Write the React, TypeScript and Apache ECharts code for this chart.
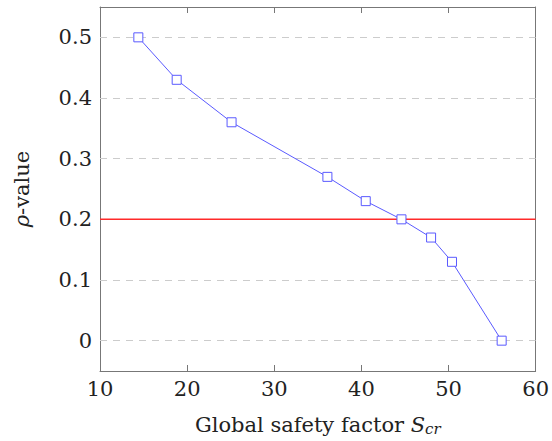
import React, { useEffect, useRef } from "react";
import * as echarts from "echarts";

const safetyFactor = [14.4, 18.8, 25.1, 36.1, 40.5, 44.6, 48.0, 50.4, 56.1];
const pValue = [0.5, 0.43, 0.36, 0.27, 0.23, 0.2, 0.17, 0.13, 0.0];
const yTicks = [0, 0.1, 0.2, 0.3, 0.4, 0.5];
const xTicks = [10, 20, 30, 40, 50, 60];
const threshold = 0.2;

const FONT = "DejaVu Serif";
const FS = 21;
const TXT = "#222";
const AXIS = "#777777";

const mkLine = () => ({ show: true, onZero: false, lineStyle: { color: AXIS, width: 1 } });
const mkTick = (vals: number[]) => ({
  show: true,
  inside: true,
  length: 6,
  customValues: vals,
  lineStyle: { color: AXIS, width: 1 },
});

export default function App() {
  const ref = useRef<HTMLDivElement>(null);
  useEffect(() => {
    if (!ref.current) return;
    const chart = echarts.init(ref.current, null, { renderer: "svg" });
    const xMin = xTicks[0];
    const xMax = xTicks[xTicks.length - 1];
    const gridLines = yTicks
      .filter((v) => v !== threshold)
      .map((v) => ({ yAxis: v }));
    chart.setOption({
      animation: false,
      grid: {
        left: 100,
        right: 11,
        top: 7,
        bottom: 69,
        show: false,
      },
      xAxis: [
        {
          type: "value",
          min: xMin,
          max: xMax,
          interval: 10,
          position: "bottom",
          axisLine: mkLine(),
          axisTick: mkTick(xTicks),
          splitLine: { show: false },
          axisLabel: { fontFamily: FONT, fontSize: FS, color: TXT, margin: 7 },
          name: "Global safety factor {i|S}{sub|cr}",
          nameLocation: "middle",
          nameGap: 42,
          nameTextStyle: {
            fontFamily: FONT,
            fontSize: FS,
            color: TXT,
            rich: {
              i: { fontFamily: FONT, fontSize: FS, fontStyle: "italic", color: TXT },
              sub: {
                fontFamily: FONT,
                fontSize: 15,
                fontStyle: "italic",
                color: TXT,
                verticalAlign: "bottom",
                padding: [8, 0, 0, 0],
              },
            },
          },
        },
        {
          type: "value",
          min: xMin,
          max: xMax,
          interval: 10,
          position: "top",
          axisLine: mkLine(),
          axisTick: mkTick(xTicks),
          splitLine: { show: false },
          axisLabel: { show: false },
        },
      ],
      yAxis: [
        {
          type: "value",
          min: -0.05,
          max: 0.55,
          position: "left",
          axisLine: mkLine(),
          axisTick: mkTick(yTicks),
          splitLine: { show: false },
          axisLabel: {
            customValues: yTicks,
            fontFamily: FONT,
            fontSize: FS,
            color: TXT,
            margin: 8,
            formatter: (v: number) => String(Math.round(v * 10) / 10),
          },
          name: "{i|ρ}-value",
          nameLocation: "middle",
          nameRotate: 90,
          nameGap: 68,
          nameTextStyle: {
            fontFamily: FONT,
            fontSize: FS,
            color: TXT,
            rich: {
              i: { fontFamily: FONT, fontSize: FS, fontStyle: "italic", color: TXT },
            },
          },
        },
        {
          type: "value",
          min: -0.05,
          max: 0.55,
          position: "right",
          axisLine: mkLine(),
          axisTick: mkTick(yTicks),
          splitLine: { show: false },
          axisLabel: { show: false },
        },
      ],
      series: [
        {
          type: "line",
          data: [],
          silent: true,
          markLine: {
            silent: true,
            symbol: "none",
            label: { show: false },
            lineStyle: { color: "#cccccc", type: [7, 6], width: 1.2 },
            data: gridLines,
          },
        },
        {
          type: "line",
          data: [
            [xMin, threshold],
            [xMax, threshold],
          ],
          silent: true,
          symbol: "none",
          lineStyle: { color: "#ff2a2a", width: 1.5 },
          itemStyle: { color: "#ff2a2a" },
          z: 3,
        },
        {
          type: "line",
          data: safetyFactor.map((x, i) => [x, pValue[i]]),
          symbol: "rect",
          symbolSize: 9,
          showAllSymbol: true,
          lineStyle: { color: "#5a5aff", width: 1 },
          itemStyle: { color: "#ffffff", borderColor: "#5a5aff", borderWidth: 1 },
          z: 5,
        },
      ],
    });
    return () => chart.dispose();
  }, []);
  return (
    <div
      ref={ref}
      style={{ position: "fixed", left: 0, top: 0, width: 552, height: 441, background: "#fff" }}
    />
  );
}
